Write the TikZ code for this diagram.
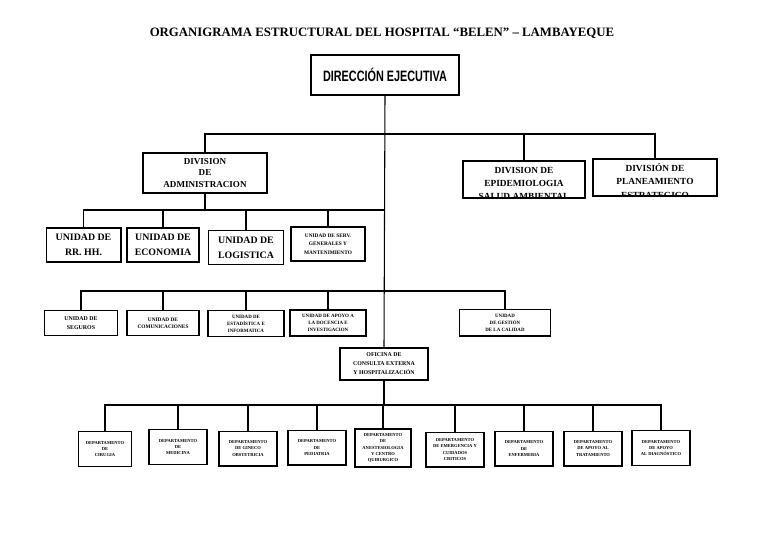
\documentclass[tikz,border=0pt]{standalone}
\usepackage{fontspec}
\setmainfont{Liberation Serif}
\newfontfamily\condsans{Liberation Sans}[FakeStretch=0.72]
\usepackage{tikz}

\tikzset{
	box/.style={draw, line width=1pt, inner sep=0pt, align=center, font=\bfseries},
	bigunit/.style={box, minimum height=25.5pt, font=\bfseries\fontsize{7.4}{11}\selectfont},
	smallunit/.style={box, minimum height=19pt, font=\bfseries\fontsize{4}{5.6}\selectfont},
	dept/.style={box, minimum width=43.5pt, minimum height=26pt, font=\bfseries\fontsize{3.4}{4.7}\selectfont},
	link/.style={line width=0.8pt, black}
}

\begin{document}
\begin{tikzpicture}[x=0.75pt, y=-0.75pt]
	\useasboundingbox (0,0) rectangle (768,543);
	\node (title) at (382,33) {\bfseries\fontsize{9.6}{11}\selectfont ORGANIGRAMA ESTRUCTURAL DEL HOSPITAL “BELEN” – LAMBAYEQUE};

	\node[box, minimum width=111pt, minimum height=30pt, font=\condsans\bfseries\fontsize{11.3}{13}\selectfont] (dir) at (385,75) {DIRECCIÓN EJECUTIVA};

	\node[box, minimum width=93pt, minimum height=30pt, font=\bfseries\fontsize{6.8}{8.6}\selectfont] (adm) at (205,173) {DIVISION\\DE\\ADMINISTRACION};
	\node[box, minimum width=91.5pt, minimum height=27.75pt, path picture={\node[anchor=north, align=center, font=\bfseries\fontsize{7}{9.6}\selectfont] at ([yshift=-2.5pt]path picture bounding box.north) {DIVISION DE\\EPIDEMIOLOGIA\\SALUD AMBIENTAL};}] (epi) at (524,179.5) {};
	\node[box, minimum width=93pt, minimum height=27.75pt, path picture={\node[anchor=north, align=center, font=\bfseries\fontsize{7}{10}\selectfont] at ([yshift=-2pt]path picture bounding box.north) {DIVISIÓN DE\\PLANEAMIENTO\\ESTRATEGICO};}] (plan) at (655,177.5) {};

	\node[bigunit, minimum width=56pt] (rrhh) at (83.5,245) {UNIDAD DE\\RR. HH.};
	\node[bigunit, minimum width=54pt] (eco) at (163,245) {UNIDAD DE\\ECONOMIA};
	\node[bigunit, minimum width=56pt] (log) at (246,247.5) {UNIDAD DE\\LOGISTICA};
	\node[smallunit, minimum width=55.5pt, minimum height=25.5pt, font=\bfseries\fontsize{4}{6.3}\selectfont] (serv) at (328,244) {UNIDAD DE SERV.\\GENERALES Y\\MANTENIMIENTO};

	\node[smallunit, minimum width=55pt, font=\bfseries\fontsize{4.4}{6.6}\selectfont] (seg) at (81,323) {UNIDAD DE\\SEGUROS};
	\node[smallunit, minimum width=54pt] (com) at (163,323) {UNIDAD DE\\COMUNICACIONES};
	\node[smallunit, minimum width=57pt, minimum height=19.5pt, font=\bfseries\fontsize{3.7}{5.2}\selectfont] (est) at (246,323.5) {UNIDAD DE\\ESTADÍSTICA E\\INFORMATICA};
	\node[smallunit, minimum width=57pt, minimum height=19.5pt, font=\bfseries\fontsize{3.7}{5.2}\selectfont] (doc) at (328,323) {UNIDAD DE APOYO A\\LA DOCENCIA E\\INVESTIGACION};
	\node[smallunit, minimum width=68pt, minimum height=20pt, font=\bfseries\fontsize{3.7}{5.2}\selectfont] (cal) at (505,322.5) {UNIDAD\\DE GESTIÓN\\DE LA CALIDAD};

	\node[smallunit, minimum width=66pt, minimum height=24pt, font=\bfseries\fontsize{4.4}{6.8}\selectfont] (ofi) at (384,364) {OFICINA DE\\CONSULTA EXTERNA\\Y HOSPITALIZACIÓN};

	\node[dept, minimum width=40pt] (cir) at (105,449) {DEPARTAMENTO\\DE\\CIRUGIA};
	\node[dept] (med) at (178,447) {DEPARTAMENTO\\DE\\MEDICINA};
	\node[dept] (gin) at (248,448.5) {DEPARTAMENTO\\DE GINECO\\OBSTETRICIA};
	\node[dept] (ped) at (317,447.5) {DEPARTAMENTO\\DE\\PEDIATRIA};
	\node[dept, minimum width=42pt, minimum height=28.5pt] (ane) at (383,448) {DEPARTAMENTO\\DE\\ANESTESIOLOGIA\\Y CENTRO\\QUIRURGICO};
	\node[dept] (eme) at (455,449.5) {DEPARTAMENTO\\DE EMERGENCIA Y\\CUIDADOS\\CRITICOS};
	\node[dept] (enf) at (524,448.5) {DEPARTAMENTO\\DE\\ENFERMERIA};
	\node[dept] (tra) at (593,448.5) {DEPARTAMENTO\\DE APOYO AL\\TRATAMIENTO};
	\node[dept] (dia) at (661,448) {DEPARTAMENTO\\DE APOYO\\AL DIAGNÓSTICO};

	\coordinate (j1) at (384,134);
	\coordinate (j2) at (384,210);
	\coordinate (j3) at (384,291);
	\coordinate (j4) at (384,405);

	\draw[link] (dir.south) -- (ofi.north);
	\draw[link] (adm.north) |- (plan.north |- j1) -- (plan.north);
	\draw[link] (epi.north) -- (epi.north |- j1);
	\draw[link] (adm.south) -- (adm.south |- j2);
	\draw[link] (rrhh.north) |- (j2);
	\foreach \u in {eco,log,serv}
		\draw[link] (\u.north) -- (\u.north |- j2);
	\draw[link] (seg.north) |- (cal.north |- j3) -- (cal.north);
	\foreach \u in {com,est,doc}
		\draw[link] (\u.north) -- (\u.north |- j3);
	\draw[link] (ofi.south) -- (j4);
	\draw[link] (cir.north) |- (dia.north |- j4) -- (dia.north);
	\foreach \d in {med,gin,ped,ane,eme,enf,tra}
		\draw[link] (\d.north) -- (\d.north |- j4);
\end{tikzpicture}
\end{document}
